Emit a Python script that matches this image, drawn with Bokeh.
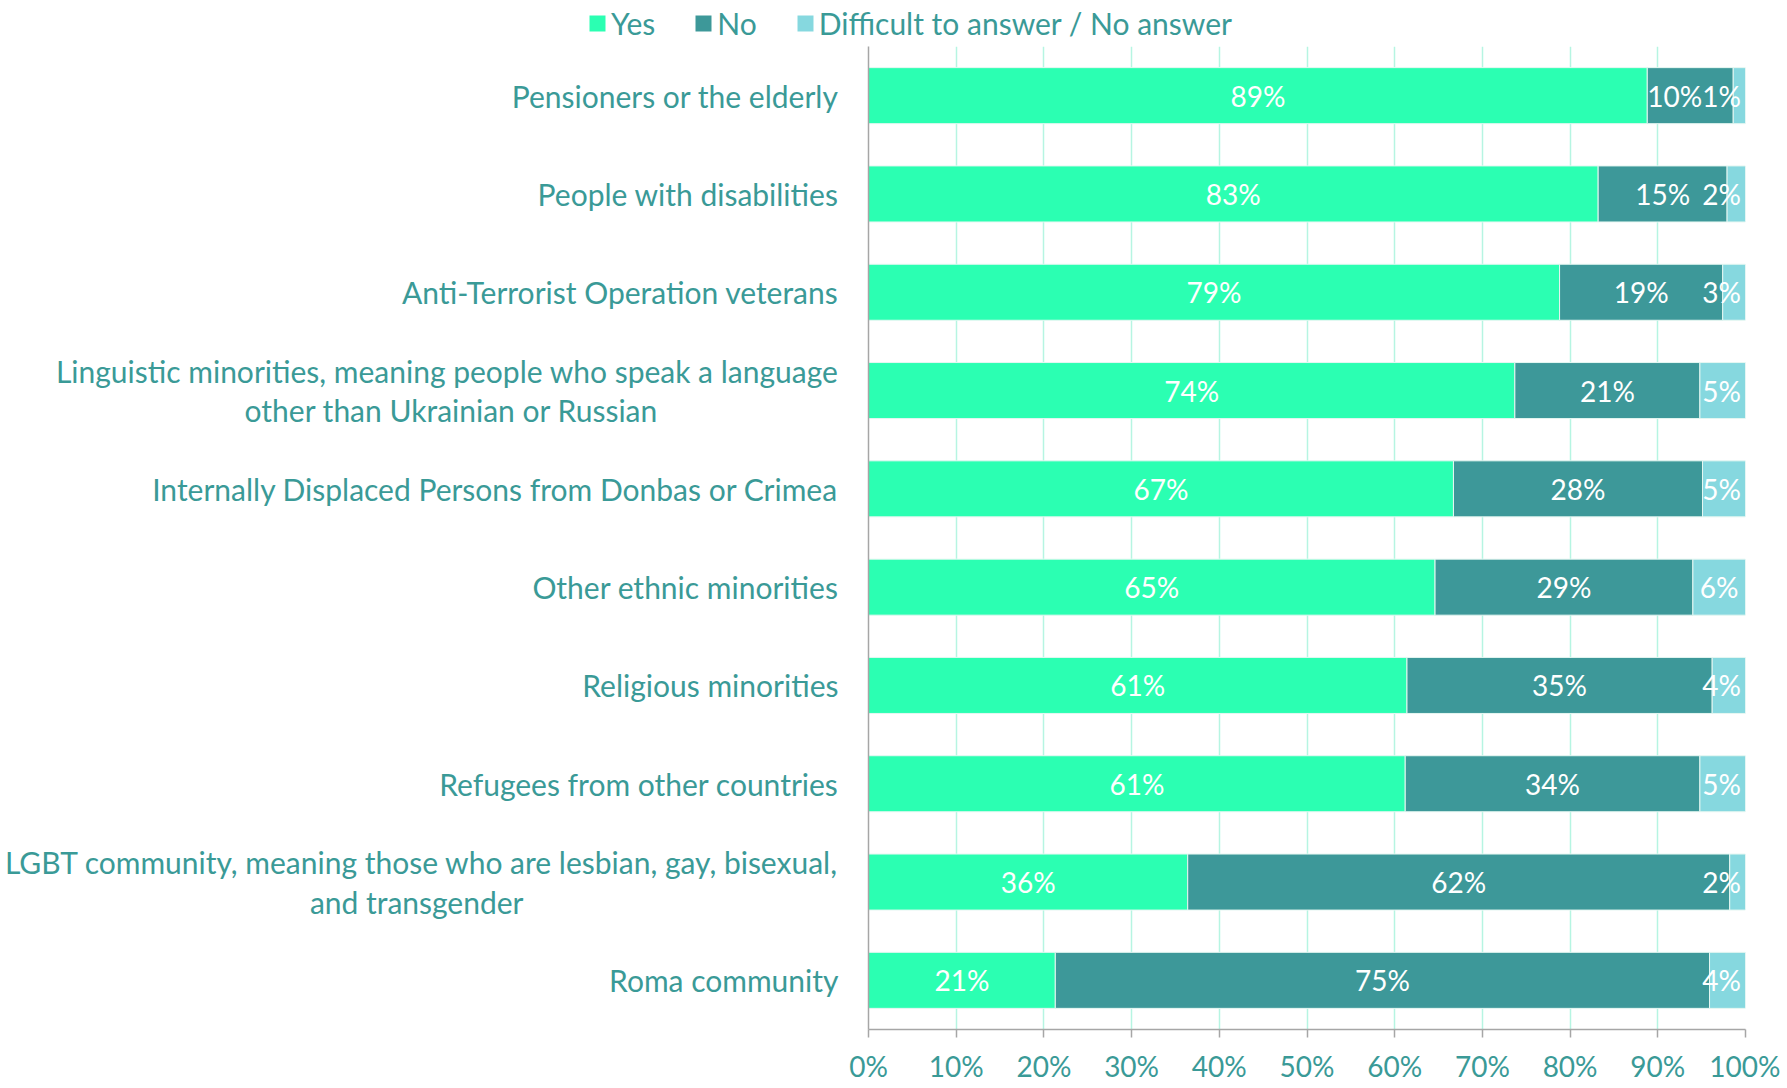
from bokeh.plotting import figure
from bokeh.models import ColumnDataSource, Range1d, FactorRange, FixedTicker, Legend, LegendItem
from bokeh.core.properties import value
from bokeh.embed import file_html
from bokeh.resources import INLINE

categories = [
    "Pensioners or the elderly",
    "People with disabilities",
    "Anti-Terrorist Operation veterans",
    "Linguistic minorities, meaning people who speak a language\nother than Ukrainian or Russian",
    "Internally Displaced Persons from Donbas or Crimea",
    "Other ethnic minorities",
    "Religious minorities",
    "Refugees from other countries",
    "LGBT community, meaning those who are lesbian, gay, bisexual,\nand transgender",
    "Roma community",
]
yes = [88.8, 83.2, 78.8, 73.7, 66.7, 64.6, 61.4, 61.2, 36.4, 21.3]
no = [9.8, 14.7, 18.6, 21.1, 28.4, 29.4, 34.8, 33.6, 61.8, 74.6]
dk = [1.4, 2.1, 2.6, 5.2, 4.9, 6.0, 3.8, 5.2, 1.8, 4.1]
series_names = ["Yes", "No", "Difficult to answer / No answer"]
x_ticks = [0, 10, 20, 30, 40, 50, 60, 70, 80, 90, 100]
x_tick_labels = ["0%", "10%", "20%", "30%", "40%", "50%", "60%", "70%", "80%", "90%", "100%"]

FONT = "Lato"
FS_CAT = 30
FS = 28
TEXT = "#3A9A97"
COLORS = ["#2BFFB2", "#3D9899", "#86D8DF"]
AXIS = "#A6A6A6"

W = 1780
LEG_H = 46
H = 1085 - LEG_H
ML, MR, MT, MB = 868, 35, 0, 56
frame_w = W - ML - MR

# two-line labels: pad the end of the second line so it sits centred under the first
pad_em = {3: 8, 8: 14}
factors = [c + ("\u2003" * pad_em[i] if i in pad_em else "") for i, c in enumerate(categories)]

src = ColumnDataSource(dict(cat=factors, yes=yes, no=no, dk=dk))

p = figure(width=W, height=H,
           y_range=FactorRange(*reversed(factors)),
           x_range=Range1d(0, 100),
           output_backend="svg", toolbar_location=None,
           min_border_left=ML, min_border_right=MR,
           min_border_top=MT, min_border_bottom=MB)
p.outline_line_color = None
p.background_fill_color = "white"

rs = p.hbar_stack(["yes", "no", "dk"], y="cat", height=0.57, color=COLORS,
                  source=src, line_color="#E6F7F2", line_width=1)

# value labels
px_per_unit = frame_w / 100.0
def half_w(s):
    w = sum(0.85 if ch == "%" else 0.55 for ch in s) * FS
    return w / 2 / px_per_unit

lx, ly, lt = [], [], []
for c, a, b, d in zip(factors, yes, no, dk):
    sa, sb, sd = f"{a:.0f}%", f"{b:.0f}%", f"{d:.0f}%"
    xa = a / 2
    xb = a + b / 2
    xd = min(a + b + d / 2, 100 - half_w(sd) - 0.5)
    if xb + half_w(sb) > xd - half_w(sd):
        xb = xd - half_w(sd) - half_w(sb)
    for x, s in ((xa, sa), (xb, sb), (xd, sd)):
        lx.append(x); ly.append(c); lt.append(s)

p.text(x=lx, y=ly, text=lt, text_align="center", text_baseline="middle",
       text_font=value(FONT), text_font_size=f"{FS}px", text_color="white")

# axes
p.xaxis.ticker = FixedTicker(ticks=x_ticks)
p.xaxis.major_label_overrides = dict(zip(x_ticks, x_tick_labels))
p.xaxis.axis_line_color = AXIS
p.xaxis.axis_line_width = 1.5
p.xaxis.major_tick_line_color = AXIS
p.xaxis.major_tick_line_width = 1.5
p.xaxis.major_tick_out = 8
p.xaxis.major_tick_in = 0
p.xaxis.minor_tick_line_color = None
p.xaxis.major_label_standoff = 11
p.xaxis.major_label_text_font = FONT
p.xaxis.major_label_text_font_size = f"{FS}px"
p.xaxis.major_label_text_color = TEXT

p.yaxis.axis_line_color = AXIS
p.yaxis.axis_line_width = 1.5
p.yaxis.major_tick_line_color = None
p.yaxis.major_tick_out = 0
p.yaxis.major_tick_in = 0
p.yaxis.minor_tick_line_color = None
p.yaxis.major_label_standoff = 30
p.yaxis.major_label_text_font = FONT
p.yaxis.major_label_text_font_size = f"{FS_CAT}px"
p.yaxis.major_label_text_line_height = 1.1
p.yaxis.major_label_text_color = TEXT

p.ygrid.grid_line_color = None
p.xgrid.ticker = FixedTicker(ticks=x_ticks)
p.xgrid.grid_line_color = "#B6F5E2"
p.xgrid.grid_line_width = 1.5

# legend strip above the chart (its bars lie outside its x range, only the legend shows)
lf = figure(width=W, height=LEG_H, y_range=FactorRange(*factors), x_range=Range1d(-2, -1),
            output_backend="svg", toolbar_location=None,
            min_border_left=587, min_border_right=0,
            min_border_top=0, min_border_bottom=0)
lf.axis.visible = False
lf.grid.visible = False
lf.outline_line_color = None
lrs = lf.hbar_stack(["yes", "no", "dk"], y="cat", height=0.57, color=COLORS,
                    source=src, line_color=None)
legend = Legend(items=[LegendItem(label=n, renderers=[r]) for n, r in zip(series_names, lrs)],
                orientation="horizontal", location="left",
                glyph_width=20, glyph_height=20, label_standoff=4, spacing=38,
                padding=0, margin=0, border_line_color=None, background_fill_alpha=0,
                label_text_font=FONT, label_text_font_size=f"{FS_CAT}px",
                label_text_color=TEXT)
lf.add_layout(legend, "center")

open("out.html", "w").write(file_html([lf, p], INLINE))
